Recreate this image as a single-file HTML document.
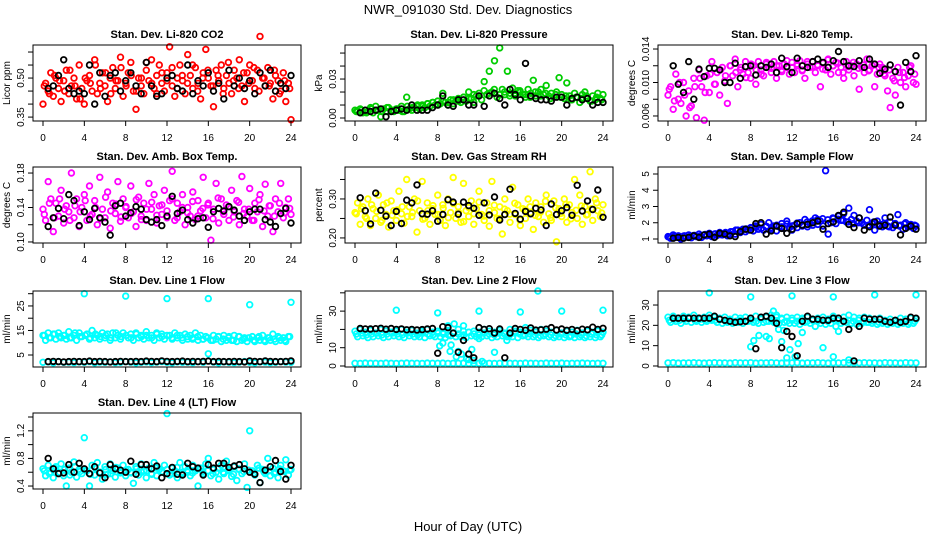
<!DOCTYPE html>
<html><head><meta charset="utf-8"><title>NWR_091030 Std. Dev. Diagnostics</title>
<style>
html,body{margin:0;padding:0;background:#fff;}
svg{display:block;font-family:"Liberation Sans",sans-serif;}
</style></head>
<body>
<svg id="chart" width="936" height="540" viewBox="0 0 936 540" xmlns="http://www.w3.org/2000/svg">
<rect x="0" y="0" width="936" height="540" fill="#fff"/>
<text x="468" y="14" text-anchor="middle" font-size="13">NWR_091030  Std. Dev. Diagnostics</text>
<text x="468" y="531" text-anchor="middle" font-size="13">Hour of Day (UTC)</text>
</svg>
<script>
// ---- data (colored series evenly spaced 0..24 h, second colored set offset, black series 0.5..24 h) ----
const xTicks = [0,4,8,12,16,20,24];

const co2Vals = [0.40,0.48,0.45,0.52,0.43,0.50,0.46,0.41,0.49,0.53,0.44,0.47,0.50,0.42,0.55,0.46,0.40,0.49,0.51,0.45,0.57,0.44,0.48,0.52,0.47,0.41,0.50,0.54,0.46,0.49,0.58,0.43,0.48,0.52,0.56,0.45,0.38,0.50,0.47,0.44,0.53,0.49,0.57,0.46,0.51,0.55,0.48,0.45,0.52,0.62,0.47,0.43,0.50,0.55,0.49,0.44,0.59,0.51,0.46,0.54,0.48,0.42,0.52,0.61,0.50,0.47,0.39,0.53,0.49,0.55,0.46,0.51,0.48,0.44,0.53,0.50,0.57,0.47,0.41,0.52,0.55,0.49,0.46,0.53,0.66,0.50,0.47,0.54,0.48,0.42,0.51,0.49,0.45,0.52,0.41,0.48,0.34];
const co2Vals2 = [0.47,0.44,0.51,0.49,0.45,0.53,0.47,0.42,0.50,0.48,0.55,0.46,0.52,0.44,0.49,0.54,0.47,0.51,0.45,0.50,0.56,0.48,0.44,0.52,0.49,0.54,0.46,0.51,0.48,0.55,0.45,0.50,0.53,0.47,0.51,0.44,0.56,0.49,0.46,0.52,0.48,0.54,0.45,0.50,0.47,0.53,0.44,0.49,0.46];
const co2Black = [0.46,0.47,0.51,0.57,0.46,0.44,0.45,0.44,0.55,0.40,0.52,0.43,0.51,0.52,0.45,0.49,0.52,0.47,0.44,0.56,0.47,0.43,0.44,0.50,0.51,0.46,0.45,0.55,0.44,0.49,0.47,0.52,0.45,0.48,0.42,0.53,0.47,0.50,0.46,0.49,0.44,0.52,0.47,0.53,0.45,0.48,0.46,0.51];

const presVals = [0.006,0.005,0.007,0.004,0.006,0.005,0.008,0.004,0.009,0.006,0.001,0.007,0.005,0.008,0.006,0.005,0.007,0.006,0.009,0.005,0.016,0.007,0.006,0.008,0.009,0.007,0.010,0.008,0.011,0.009,0.012,0.010,0.013,0.011,0.019,0.012,0.010,0.014,0.011,0.013,0.015,0.012,0.016,0.013,0.020,0.015,0.012,0.017,0.019,0.014,0.028,0.018,0.036,0.020,0.044,0.016,0.054,0.022,0.018,0.036,0.019,0.023,0.017,0.021,0.020,0.018,0.016,0.022,0.019,0.029,0.017,0.020,0.022,0.018,0.025,0.017,0.019,0.016,0.020,0.031,0.018,0.015,0.027,0.017,0.014,0.019,0.016,0.012,0.018,0.020,0.015,0.013,0.017,0.014,0.019,0.015,0.018];
const presVals2 = [0.005,0.006,0.004,0.007,0.006,0.005,0.008,0.006,0.007,0.005,0.009,0.008,0.010,0.009,0.011,0.012,0.010,0.013,0.012,0.014,0.013,0.016,0.015,0.018,0.017,0.021,0.019,0.022,0.018,0.020,0.017,0.019,0.021,0.018,0.016,0.020,0.017,0.019,0.015,0.018,0.016,0.017,0.014,0.016,0.015,0.017,0.013,0.016,0.014];
const presBlack = [0.004,0.006,0.005,0.006,0.007,0.001,0.005,0.006,0.007,0.006,0.010,0.006,0.006,0.006,0.008,0.010,0.017,0.010,0.009,0.014,0.014,0.010,0.010,0.017,0.009,0.017,0.019,0.015,0.010,0.022,0.018,0.014,0.042,0.017,0.015,0.014,0.014,0.013,0.016,0.016,0.010,0.015,0.016,0.014,0.015,0.010,0.012,0.012];

const tempVals = [0.0085,0.0095,0.0068,0.0110,0.0080,0.0075,0.0100,0.0060,0.0090,0.0072,0.0105,0.0058,0.0115,0.0095,0.0055,0.0108,0.0088,0.0125,0.0098,0.0112,0.0085,0.0118,0.0102,0.0075,0.0120,0.0108,0.0128,0.0095,0.0115,0.0110,0.0125,0.0112,0.0105,0.0120,0.0098,0.0125,0.0115,0.0108,0.0122,0.0118,0.0112,0.0125,0.0105,0.0120,0.0115,0.0122,0.0118,0.0110,0.0124,0.0112,0.0120,0.0126,0.0115,0.0105,0.0122,0.0118,0.0125,0.0112,0.0120,0.0095,0.0123,0.0115,0.0128,0.0110,0.0120,0.0124,0.0112,0.0118,0.0105,0.0125,0.0115,0.0120,0.0108,0.0122,0.0092,0.0118,0.0112,0.0128,0.0115,0.0120,0.0095,0.0110,0.0122,0.0118,0.0108,0.0090,0.0070,0.0105,0.0085,0.0118,0.0100,0.0112,0.0095,0.0108,0.0120,0.0100,0.0098];
const tempVals2 = [0.0092,0.0078,0.0100,0.0085,0.0070,0.0095,0.0105,0.0088,0.0110,0.0098,0.0115,0.0108,0.0120,0.0112,0.0118,0.0106,0.0122,0.0115,0.0110,0.0124,0.0117,0.0120,0.0113,0.0126,0.0118,0.0122,0.0114,0.0125,0.0119,0.0121,0.0116,0.0127,0.0120,0.0123,0.0112,0.0119,0.0124,0.0117,0.0121,0.0114,0.0122,0.0118,0.0110,0.0115,0.0102,0.0112,0.0106,0.0118,0.0110];
const tempBlack = [0.0120,0.0098,0.0088,0.0125,0.0080,0.0116,0.0107,0.0117,0.0117,0.0115,0.0100,0.0100,0.0123,0.0105,0.0119,0.0120,0.0109,0.0120,0.0118,0.0122,0.0112,0.0129,0.0119,0.0112,0.0129,0.0120,0.0118,0.0125,0.0128,0.0124,0.0118,0.0126,0.0137,0.0125,0.0120,0.0119,0.0126,0.0118,0.0128,0.0122,0.0111,0.0116,0.0121,0.0113,0.0073,0.0124,0.0113,0.0132];

const ambVals = [0.138,0.125,0.170,0.150,0.112,0.145,0.130,0.160,0.122,0.142,0.135,0.180,0.128,0.150,0.118,0.140,0.155,0.125,0.165,0.132,0.148,0.120,0.175,0.138,0.128,0.158,0.116,0.145,0.133,0.170,0.124,0.150,0.140,0.128,0.165,0.135,0.118,0.152,0.130,0.145,0.125,0.168,0.138,0.155,0.122,0.142,0.132,0.160,0.128,0.148,0.182,0.125,0.145,0.135,0.155,0.120,0.140,0.130,0.158,0.126,0.148,0.136,0.175,0.128,0.145,0.102,0.138,0.168,0.122,0.150,0.132,0.143,0.125,0.160,0.135,0.148,0.120,0.176,0.138,0.130,0.162,0.125,0.145,0.135,0.155,0.118,0.167,0.130,0.142,0.112,0.150,0.135,0.168,0.128,0.140,0.150,0.132];
const ambVals2 = [0.132,0.145,0.128,0.150,0.138,0.125,0.142,0.135,0.148,0.130,0.140,0.127,0.152,0.136,0.144,0.129,0.141,0.133,0.149,0.126,0.138,0.146,0.131,0.143,0.136,0.150,0.128,0.140,0.134,0.147,0.130,0.139,0.143,0.127,0.151,0.135,0.141,0.129,0.146,0.133,0.138,0.125,0.149,0.136,0.142,0.130,0.145,0.134,0.139];
const ambBlack = [0.118,0.128,0.139,0.127,0.155,0.148,0.119,0.135,0.126,0.139,0.128,0.123,0.108,0.142,0.145,0.130,0.134,0.141,0.138,0.126,0.123,0.126,0.119,0.130,0.153,0.133,0.137,0.126,0.122,0.127,0.128,0.117,0.135,0.139,0.136,0.141,0.137,0.130,0.125,0.135,0.138,0.138,0.126,0.123,0.118,0.133,0.139,0.122];

const rhVals = [0.265,0.290,0.235,0.280,0.255,0.300,0.232,0.275,0.250,0.310,0.240,0.285,0.260,0.228,0.295,0.270,0.245,0.320,0.262,0.238,0.350,0.280,0.255,0.300,0.215,0.270,0.345,0.250,0.290,0.235,0.275,0.260,0.310,0.245,0.285,0.232,0.300,0.265,0.355,0.250,0.280,0.240,0.340,0.270,0.255,0.295,0.235,0.275,0.320,0.260,0.245,0.290,0.230,0.345,0.265,0.250,0.280,0.210,0.300,0.270,0.240,0.330,0.260,0.285,0.232,0.275,0.250,0.300,0.265,0.222,0.290,0.255,0.280,0.240,0.310,0.262,0.245,0.295,0.190,0.275,0.255,0.300,0.240,0.285,0.265,0.350,0.250,0.310,0.235,0.280,0.260,0.370,0.245,0.300,0.270,0.255,0.285];
const rhVals2 = [0.262,0.275,0.250,0.285,0.268,0.245,0.290,0.258,0.272,0.280,0.255,0.265,0.295,0.248,0.270,0.283,0.260,0.276,0.252,0.288,0.266,0.242,0.278,0.262,0.292,0.256,0.270,0.284,0.250,0.274,0.261,0.289,0.246,0.272,0.280,0.258,0.266,0.294,0.252,0.277,0.263,0.286,0.249,0.271,0.282,0.259,0.275,0.290,0.264];
const rhBlack = [0.303,0.270,0.236,0.315,0.271,0.256,0.232,0.268,0.237,0.297,0.290,0.336,0.262,0.261,0.270,0.243,0.260,0.298,0.292,0.261,0.292,0.283,0.276,0.258,0.290,0.259,0.305,0.246,0.260,0.325,0.263,0.248,0.268,0.262,0.276,0.272,0.232,0.287,0.260,0.270,0.278,0.258,0.335,0.269,0.295,0.273,0.323,0.253];

const flowVals = [1.15,1.05,1.25,1.10,1.20,1.00,1.18,1.12,1.25,1.08,1.22,1.15,1.30,1.10,1.25,1.20,1.35,1.15,1.30,1.22,1.40,1.25,1.35,1.20,1.30,1.45,1.30,1.55,1.40,1.60,1.45,1.55,1.70,1.50,1.80,1.60,1.90,1.55,1.75,2.00,1.60,1.80,1.50,1.75,1.95,1.65,2.10,1.70,1.55,1.85,1.70,2.00,1.80,2.20,1.75,1.95,1.85,2.30,1.90,2.10,1.80,5.20,1.30,2.00,2.25,1.95,2.40,2.15,2.55,2.05,2.90,2.20,2.45,2.10,2.30,2.00,1.85,2.15,2.80,1.95,1.55,2.10,1.90,1.75,2.30,1.80,2.05,1.70,1.95,2.50,1.85,1.60,2.00,1.75,1.90,1.65,1.80];
const flowVals2 = [1.12,1.18,1.08,1.20,1.15,1.22,1.18,1.28,1.22,1.32,1.28,1.40,1.45,1.55,1.50,1.62,1.68,1.72,1.65,1.78,1.70,1.85,1.75,1.92,1.80,1.98,1.88,2.05,2.12,2.20,2.25,2.18,2.30,2.22,2.15,2.05,1.95,2.00,1.90,1.85,2.05,1.80,1.95,1.75,1.88,1.80,1.92,1.78,1.85];
const flowBlack = [1.05,1.10,1.05,1.10,1.20,1.10,1.25,1.30,1.10,1.35,1.30,1.20,1.15,1.45,1.60,1.55,1.95,2.00,1.30,1.50,1.80,1.65,1.35,1.60,1.95,1.85,1.90,2.00,2.10,1.60,1.95,2.05,2.45,2.65,1.90,1.70,2.30,1.55,1.75,2.05,1.80,1.85,2.35,1.85,1.25,1.65,1.80,1.60];

const line1Vals = [13,11,14,12,13.5,11.5,14,12,13,11.5,14.5,12,13,11,14,12.5,30,13.5,11.5,15,12,13,11.5,14,12,13.5,11,14,12,13,11.5,14,29,12,13.5,11,14,12,13,11.5,14.5,12,13,11,14,12,13.5,11.5,28,13,11.5,14,12,13,11,13.5,11.5,13,12,14,11,13,11.5,12.5,28,11,13,11.5,12.5,10.5,13,11,12.5,11,13,10.5,12.5,11,12,10.5,25.5,12.5,10.5,12,11,13,10.5,12,11,13.5,10.5,12.5,11,12,10.5,12.5,26.5];
const line1Vals2 = [13,12,13.5,12.5,13,12,14,12.5,13,12,13.5,12.5,13,12,14,12.5,13,12,13.5,12.5,13,12,13.5,12.5,13,12,13,12,12.5,11.5,12.5,11.5,12,11,12.5,11.5,12,11,12.5,11.5,12,11,12.5,11,12,11.5,12,11,12.5];
const line1Low = [2,2.2,1.8,2.3,2,2.1,1.9,2.2,2,2.3,1.8,2.1,2,2.2,1.9,2,2.3,2.1,1.8,2,2.2,1.9,2.1,2.3,2,1.8,2.2,2,2.1,1.9,2.3,2,5.5,2.1,1.8,2.2,2,1.9,2.1,2.3,2,1.8,2.2,2.1,1.9,2,2.3,2.1,2];
const line1Black = [2.3,2.4,2.3,2.2,2.3,2.4,2.3,2.3,2.5,2.3,2.4,2.3,2.2,2.3,2.4,2.3,2.3,2.4,2.3,2.5,2.4,2.3,2.6,2.4,2.3,2.4,2.5,2.3,2.4,2.3,2.4,2.5,2.3,2.4,2.3,2.3,2.4,2.3,2.2,2.6,2.4,2.3,2.6,2.4,2.3,2.3,2.4,2.6];

const line2Vals = [19,16,20,16.5,18.5,15.5,19.5,16,18,16.5,20,15.5,19,16,18.5,16.5,19,16,20,15.5,18.5,16.5,19.5,16,18,16,19,15.5,20,16.5,18.5,16,19,16,18.5,15.5,19.5,16.5,18,16,20,16,19,15.5,18.5,16.5,19,16,18.5,16,20,16.5,19,15.5,18.5,16,19.5,16.5,18,16,20,16,19,15.5,18.5,16.5,21,16,19.5,16,18.5,15.5,20,16.5,19,16,18.5,15.5,19.5,16,18,15.5,19,16,18.5,15.5,19.5,16,18,15.5,19,16,18.5,15.5,19,16,18.5];
const line2Vals2 = [17.5,18,17,17.5,18,17,17.5,18,17.5,17,18,17.5,17,18,17.5,17,18,17.5,17,18,17.5,17,18.5,17.5,17,18,17.5,17,18,17.5,17,18,17.5,17,17.5,17,16.5,17.5,17,16.5,17.5,17,16.5,17.5,17,16.5,17.5,17,17];
const line2Low = [1.5,1.4,1.6,1.5,1.5,1.4,1.6,1.5,1.4,1.5,1.6,1.5,1.5,1.4,1.6,1.5,1.5,1.6,1.4,1.5,1.5,1.6,1.4,1.5,1.5,1.6,1.5,1.4,1.5,1.6,1.5,1.5,1.4,1.6,1.5,1.5,1.4,1.6,1.5,1.5,1.6,1.4,1.5,1.5,1.6,1.5,1.4,1.5,1.5];
const line2ExtraHours = [4,8,12,16,20,24,17.7,8.2,8.5,9,9.3,9.6,9.8,10,10.3,10.5,11,11.3,11.5,12,12.3,13.5,14.7,9.2,10.8];
const line2ExtraVals = [30.5,29,30,29.5,30,30.5,41,11,12.5,22,11.5,23,5,8,6.5,22,3.5,9,3,15,2.5,7.5,14,8,4];
const line2Black = [20.5,20.3,20.2,20.4,20.6,20.1,20.5,20.0,20.3,19.8,20,19.7,19.9,20.2,20.5,7,21.5,21,18,7.5,14,6.5,4.5,21,20,20.4,18,20.2,4.5,18,20.5,20,19.5,20.8,19.6,19.8,20.1,21,19.7,20.2,19.5,20,19.3,20.1,19.8,21.2,20,20.6];

const line3Vals = [24,21.5,24.5,22,23.5,21,24.5,22,24,21.5,25,22,23.5,21.5,24,22,25,22.5,24,21.5,23.5,21,24,21.5,23,21,24,21.5,23.5,21,24,22,23.5,21.5,24.5,21,23.5,21.5,24,22,25,21.5,24,21,23.5,21.5,24,21,23.5,21,24,20.5,23.5,21.5,24,21,23,19.5,23.5,21,24,20.5,23,21,24.5,19.5,23.5,21,24,21.5,25,21,24,20.5,23.5,21,24,21.5,23.5,21,23,20.5,23.5,21,22.5,20.5,23,21,22.5,20.5,23.5,21,23,20.5,23.5,21,23];
const line3Vals2 = [22.5,23,22.5,23,23.5,22.5,23,22.5,23,22.5,23,22,22.5,22,22.5,22,22.5,22,23,22,22.5,22,23,22,22.5,22,23,22,22.5,22,22.5,22,23,22.5,22,22.5,22,22.5,22,21.5,22,21.5,22,21.5,22,21.5,22,21.5,22];
const line3Low = [1.5,1.6,1.4,1.5,1.5,1.6,1.5,1.4,1.5,1.6,1.5,1.5,1.4,1.6,1.5,1.5,1.6,1.4,1.5,1.5,1.6,1.5,1.4,1.5,1.5,1.6,1.4,1.5,1.5,1.6,1.5,1.4,1.5,1.5,1.6,1.5,1.4,1.5,1.6,1.5,1.5,1.4,1.6,1.5,1.5,1.4,1.6,1.5,1.5];
const line3ExtraHours = [4,8,12,16,20,24,8,8.3,8.8,9.5,9.8,10.2,10.5,10.7,11,11.2,11.5,11.8,12.3,12.6,13,15,16,16.5,17.5];
const line3ExtraVals = [36,34,34.5,34,35,35,9.5,12.5,15,14.5,13.5,27,25,18,12,17.5,4,8,4.5,11,16.5,9,4.5,17,3];
const line3Black = [23.5,23.5,23.5,23.5,23.5,23.5,23.5,23.5,24.5,23,22.5,22,21.5,21.8,22,23.5,8.5,24,24.5,23.5,21,9,17,14.5,5,22,24.5,23,23,22.5,22.5,23.5,23.5,22,18,2.5,19.5,23.5,23,23,23,22,21.5,22.5,21.5,22,24,23.5];

const line4Vals = [0.65,0.55,0.70,0.60,0.52,0.68,0.58,0.72,0.55,0.40,0.66,0.60,0.75,0.53,0.64,0.58,1.10,0.62,0.40,0.70,0.56,0.74,0.60,0.50,0.68,0.57,0.72,0.62,0.53,0.66,0.59,0.70,0.55,0.64,0.60,0.44,0.68,0.56,0.72,0.62,0.52,0.66,0.58,0.74,0.55,0.64,0.60,0.70,1.45,0.56,0.66,0.62,0.52,0.74,0.58,0.68,0.60,0.55,0.70,0.62,0.40,0.66,0.58,0.72,0.80,0.55,0.64,0.60,0.50,0.70,0.58,0.76,0.62,0.54,0.68,0.48,0.64,0.58,0.72,0.38,1.20,0.62,0.56,0.70,0.45,0.64,0.58,0.80,0.55,0.66,0.60,0.52,0.70,0.62,0.78,0.56,0.64];
const line4Vals2 = [0.62,0.58,0.66,0.60,0.64,0.56,0.68,0.61,0.63,0.57,0.66,0.60,0.64,0.58,0.67,0.61,0.63,0.59,0.65,0.60,0.62,0.57,0.66,0.61,0.64,0.58,0.67,0.60,0.63,0.59,0.65,0.61,0.62,0.58,0.66,0.60,0.64,0.57,0.65,0.61,0.63,0.59,0.66,0.60,0.62,0.58,0.65,0.61,0.63];
const line4Black = [0.80,0.65,0.58,0.59,0.71,0.60,0.73,0.65,0.58,0.68,0.59,0.52,0.71,0.65,0.63,0.60,0.76,0.57,0.71,0.71,0.65,0.69,0.52,0.58,0.67,0.57,0.56,0.73,0.68,0.66,0.56,0.71,0.66,0.73,0.73,0.67,0.69,0.71,0.65,0.60,0.57,0.45,0.63,0.68,0.77,0.61,0.50,0.70];

// ---- layout ----
const NS = "http://www.w3.org/2000/svg";
const svg = document.getElementById('chart');
const colLeft = [33, 345, 658];
const rowTop = [45, 167, 291, 413];
const BW = 268, BH = 76;

const panels = [
 {name:'co2', title:'Stan. Dev. Li-820 CO2', ylab:'Licor ppm', c:0, r:0, yd:[0.335,0.627], ticks:[0.35,0.40,0.45,0.50,0.55,0.60], labels:['0.35','','','0.50','',''], color:'#ff0000', vals:co2Vals, vals2:co2Vals2, black:co2Black},
 {name:'pressure', title:'Stan. Dev. Li-820 Pressure', ylab:'kPa', c:1, r:0, yd:[-0.0023,0.0562], ticks:[0,0.01,0.02,0.03,0.04,0.05], labels:['0.00','','','0.03','',''], color:'#00cd00', vals:presVals, vals2:presVals2, black:presBlack},
 {name:'temp', title:'Stan. Dev. Li-820 Temp.', ylab:'degrees C', c:2, r:0, yd:[0.0054,0.01448], ticks:[0.006,0.008,0.010,0.012,0.014], labels:['0.006','','0.010','','0.014'], color:'#ff00ff', vals:tempVals, vals2:tempVals2, black:tempBlack},
 {name:'amb-box', title:'Stan. Dev. Amb. Box Temp.', ylab:'degrees C', c:0, r:1, yd:[0.0988,0.187], ticks:[0.10,0.12,0.14,0.16,0.18], labels:['0.10','','0.14','','0.18'], color:'#ff00ff', vals:ambVals, vals2:ambVals2, black:ambBlack},
 {name:'rh', title:'Stan. Dev. Gas Stream RH', ylab:'percent', c:1, r:1, yd:[0.187,0.382], ticks:[0.20,0.25,0.30,0.35], labels:['0.20','','0.30',''], color:'#ffff00', vals:rhVals, vals2:rhVals2, black:rhBlack},
 {name:'sample-flow', title:'Stan. Dev. Sample Flow', ylab:'ml/min', c:2, r:1, yd:[0.754,5.43], ticks:[1,2,3,4,5], labels:['1','2','3','4','5'], color:'#0000ff', vals:flowVals, vals2:flowVals2, black:flowBlack},
 {name:'line1', title:'Stan. Dev. Line 1 Flow', ylab:'ml/min', c:0, r:2, yd:[0.1,31.1], ticks:[5,10,15,20,25,30], labels:['5','','15','','25',''], color:'#00ffff', vals:line1Vals, vals2:line1Vals2, low:line1Low, black:line1Black},
 {name:'line2', title:'Stan. Dev. Line 2 Flow', ylab:'ml/min', c:1, r:2, yd:[-0.55,41], ticks:[0,10,20,30,40], labels:['0','10','','30',''], color:'#00ffff', vals:line2Vals, vals2:line2Vals2, low:line2Low, exH:line2ExtraHours, exV:line2ExtraVals, black:line2Black},
 {name:'line3', title:'Stan. Dev. Line 3 Flow', ylab:'ml/min', c:2, r:2, yd:[-0.5,36.9], ticks:[0,10,20,30], labels:['0','10','20','30'], color:'#00ffff', vals:line3Vals, vals2:line3Vals2, low:line3Low, exH:line3ExtraHours, exV:line3ExtraVals, black:line3Black},
 {name:'line4', title:'Stan. Dev. Line 4 (LT) Flow', ylab:'ml/min', c:0, r:3, yd:[0.357,1.458], ticks:[0.4,0.6,0.8,1.0,1.2,1.4], labels:['0.4','','0.8','','1.2',''], color:'#00ffff', vals:line4Vals, vals2:line4Vals2, black:line4Black}
];

function mk(tag, attrs, parent){
  const e = document.createElementNS(NS, tag);
  for (const k in attrs) e.setAttribute(k, attrs[k]);
  parent.appendChild(e);
  return e;
}

panels.forEach(p => {
  const L = colLeft[p.c], T = rowTop[p.r];
  const xs = h => L + 10 + h * (BW - 20) / 24;
  const ys = v => T + BH - (v - p.yd[0]) / (p.yd[1] - p.yd[0]) * BH;
  const g = mk('g', {}, svg);
  
  

  const t = mk('text', {x: L + BW/2, y: T - 7, 'text-anchor':'middle', 'font-size':11, 'font-weight':'bold'}, g);
  
  
  t.textContent = p.title;

  const pts = mk('g', {fill:'none', 'stroke-width':1.8}, g);
  
  
  function dot(h, v, col){
    const c = mk('circle', {cx: xs(h).toFixed(1), cy: ys(v).toFixed(1), r: 2.8, stroke: col}, pts);
    
    
  }
  if (p.low) p.low.forEach((v,i) => dot(i * 24 / (p.low.length - 1), v, p.color));
  p.vals.forEach((v,i) => dot(i * 24 / (p.vals.length - 1), v, p.color));
  if (p.vals2) p.vals2.forEach((v,i) => dot(0.125 + i * 23.75 / (p.vals2.length - 1), v, p.color));
  if (p.exH) p.exH.forEach((h,i) => dot(h, p.exV[i], p.color));
  p.black.forEach((v,i) => dot(0.5 + i * 23.5 / (p.black.length - 1), v, '#000'));

  const box = mk('rect', {x: L, y: T, width: BW, height: BH, fill:'none', stroke:'#000', 'stroke-width':1}, g);
  
  

  const xa = mk('g', {}, g);
  
  
  xTicks.forEach(h => {
    mk('line', {x1: xs(h), x2: xs(h), y1: T + BH, y2: T + BH + 5, stroke:'#000'}, xa);
    const tl = mk('text', {x: xs(h), y: T + BH + 20, 'text-anchor':'middle', 'font-size':10}, xa);
    
    
    tl.textContent = h;
  });

  const ya = mk('g', {}, g);
  
  
  mk('line', {x1: L, x2: L, y1: ys(p.ticks[0]), y2: ys(p.ticks[p.ticks.length-1]), stroke:'#000'}, ya);
  p.ticks.forEach((v,i) => {
    const y = ys(v);
    mk('line', {x1: L - 5, x2: L, y1: y, y2: y, stroke:'#000'}, ya);
    if (p.labels[i]) {
      const tl = mk('text', {x: L - 9, y: y, 'text-anchor':'middle', 'font-size':10, transform: 'rotate(-90 ' + (L - 9) + ' ' + y + ')'}, ya);
      
      
      tl.textContent = p.labels[i];
    }
  });
  const yl = mk('text', {x: L - 23, y: T + BH/2, 'text-anchor':'middle', 'font-size':10, transform: 'rotate(-90 ' + (L - 23) + ' ' + (T + BH/2) + ')'}, ya);
  
  
  yl.textContent = p.ylab;
});
</script>
</body></html>
